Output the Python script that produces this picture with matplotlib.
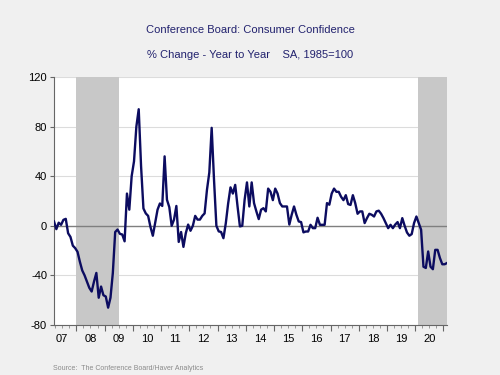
import numpy as np
import matplotlib
matplotlib.use("Agg")
import matplotlib.pyplot as plt
from matplotlib.ticker import FixedLocator, NullFormatter

# Monthly % change year to year, Mar 2007 .. Feb 2021
start_year, start_month = 2007, 3
values = [
    # 2007 Mar-Dec
    3.5, -2.7, 2.5, 0.8, 4.8, 5.6, -6, -9, -16, -18,
    # 2008
    -21, -29, -36, -40, -45, -50, -53, -45, -38, -58, -49, -56,
    # 2009
    -57, -66, -58, -38, -5, -3, -6.5, -7, -12.5, 26, 13, 40,
    # 2010
    52, 80, 94, 48, 14, 10, 8, -1, -8, 2.5, 13, 18,
    # 2011
    16, 56, 21, 15, 0, 5, 16, -13, -5, -17, -6, 1,
    # 2012
    -4, 0, 8, 5, 5, 8, 10, 29, 43, 79, 37, 0,
    # 2013
    -4.5, -5, -10, 2, 18, 31, 26, 33, 15.6, -0.5, 0, 21,
    # 2014
    35, 15.6, 35, 18.3, 11.6, 5.4, 13, 14.2, 11.6, 30, 27.4, 20.7,
    # 2015
    30, 26, 18.3, 15.6, 15.6, 15.6, 1, 8.9, 15.6, 8.9, 3.5, 3,
    # 2016
    -5.3, -4.6, -4.6, 0.8, -1.9, -1.9, 6.5, 0.8, 0.8, 0.8, 18.3, 17,
    # 2017
    26, 30, 27.4, 27.4, 23.4, 20.7, 24.7, 17.5, 16.8, 24.7, 18.3, 9.7,
    # 2018
    11.6, 11.6, 2.2, 6.2, 9.7, 8.9, 7.5, 11.6, 12.2, 9.7, 6.2, 2.2,
    # 2019
    -1.9, 0.8, -1.9, 1, 3, -1.9, 6.2, 0, -5.4, -8, -6.7, 2.2,
    # 2020
    7.5, 2.2, -3.2, -33, -34, -20.7, -33, -35, -19.4, -19.4, -26, -31,
    # 2021 Jan-Feb
    -31, -30,
]
recessions = [(2008.0, 2009.5), (2020 + 1 / 12, 2021.2)]
year_labels = ["07", "08", "09", "10", "11", "12", "13", "14", "15", "16",
               "17", "18", "19", "20"]
y_ticks = [-80, -40, 0, 40, 80, 120]

n = len(values)
t = np.array([start_year + (start_month - 1 + k + 0.5) / 12 for k in range(n)])

navy_text = "#22226e"
fig = plt.figure(figsize=(5, 3.75), dpi=100, facecolor="#f0f0f0")
ax = fig.add_axes([0.108, 0.1333, 0.786, 0.6614])
ax.set_facecolor("white")

xmin, xmax = t[0], t[-1]
for a, b in recessions:
    ax.axvspan(a, min(b, xmax), color="#c8c8c8", lw=0, zorder=1)

for yv in y_ticks:
    if yv == 0:
        ax.axhline(0, color="#7f7f7f", lw=1.0, zorder=2)
    else:
        ax.axhline(yv, color="#dcdcdc", lw=0.8, zorder=0.5)

ax.plot(t, values, color="#0c0c60", lw=1.7, zorder=3, solid_joinstyle="round")

ax.set_xlim(xmin, xmax)
ax.set_ylim(-80, 120)
ax.set_yticks(y_ticks)
ax.set_yticklabels([str(v) for v in y_ticks], family="Liberation Sans", fontsize=8)

years = np.arange(2007, 2021)
ax.xaxis.set_major_locator(FixedLocator(list(np.arange(2007, 2022))))
ax.xaxis.set_major_formatter(NullFormatter())
ax.xaxis.set_minor_locator(FixedLocator([y + q / 4 for y in range(2007, 2022) for q in range(1, 4)]))
for y, lab in zip(years, year_labels):
    ax.text(y + 0.5, -0.035, lab, transform=ax.get_xaxis_transform(),
            ha="center", va="top", fontsize=8, family="Liberation Sans", color="black")

ax.tick_params(axis="x", which="major", length=4, width=0.8, color="#666666", direction="out")
ax.tick_params(axis="x", which="minor", length=2.5, width=0.6, color="#888888", direction="out")
ax.tick_params(axis="y", length=3, width=0.8, color="#666666", pad=2)

for s in ["top", "right"]:
    ax.spines[s].set_visible(False)
for s in ["left", "bottom"]:
    ax.spines[s].set_color("#666666")
    ax.spines[s].set_linewidth(0.8)

fig.text(0.5, 1 - 30 / 375, "Conference Board: Consumer Confidence", ha="center", va="center",
         fontsize=8, family="Liberation Sans", color=navy_text)
fig.text(0.5, 1 - 55 / 375, "% Change - Year to Year    SA, 1985=100", ha="center", va="center",
         fontsize=8, family="Liberation Sans", color=navy_text)
fig.text(53 / 500, 1 - 369 / 375, "Source:  The Conference Board/Haver Analytics", ha="left",
         va="center", fontsize=5, family="Liberation Sans", color="#8a8a8a")

fig.savefig("out.png", dpi=100, facecolor=fig.get_facecolor())
